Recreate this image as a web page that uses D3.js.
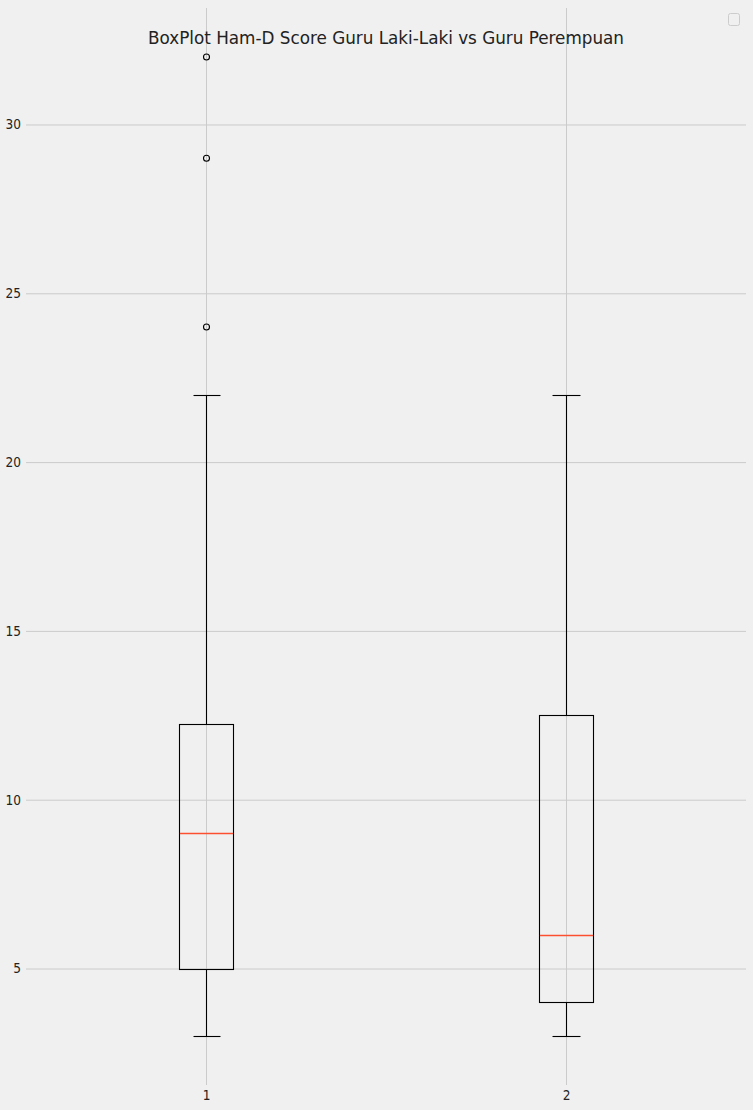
<!DOCTYPE html>
<html>
<head>
<meta charset="utf-8">
<script src="https://cdn.jsdelivr.net/npm/d3@7"></script>
<style>
  html, body { margin: 0; padding: 0; background: #f0f0f0; }
  svg { display: block; }
  text { font-family: "DejaVu Sans", sans-serif; font-stretch: condensed; fill: #222; }
</style>
</head>
<body>
<svg id="chart" width="753" height="1110"></svg>
<script>
// Data (box plot statistics)
const categories = ["1", "2"];
const positions = [1, 2];
const whiskerLow = [3, 3];
const q1 = [5, 4];
const median = [9, 6];
const q3 = [12.25, 12.5];
const whiskerHigh = [22, 22];
const outliers = [[24, 29, 32], []];
const yTicks = [5, 10, 15, 20, 25, 30];
const title = "BoxPlot Ham-D Score Guru Laki-Laki vs Guru Perempuan";

const W = 753, H = 1110;
const margin = { left: 26, right: 7, top: 8, bottom: 25 };
const svg = d3.select("#chart");

svg.append("rect").attr("width", W).attr("height", H).attr("fill", "#f0f0f0");

const x = d3.scaleLinear().domain([0.5, 2.5]).range([margin.left, W - margin.right]);
const y = d3.scaleLinear().domain([1.55, 33.45]).range([H - margin.bottom, margin.top]);
const px = v => Math.round(v) + 0.5;

const gridColor = "#cbcbcb";

// Horizontal grid + y axis
const yAxis = d3.axisLeft(y).tickValues(yTicks).tickSize(-(x.range()[1] - x.range()[0])).tickPadding(7).tickFormat(d3.format("d"));
const gy = svg.append("g").attr("transform", `translate(${margin.left},0)`).call(yAxis);
gy.select(".domain").remove();
gy.selectAll(".tick line").attr("stroke", gridColor).attr("stroke-width", 1);
gy.selectAll(".tick text").attr("font-size", 13.5).attr("fill", "#222").attr("x", -5);

// Vertical grid + x axis
const xAxis = d3.axisBottom(x).tickValues(positions).tickSize(-(y.range()[0] - y.range()[1])).tickPadding(6).tickFormat((d, i) => categories[i]);
const gx = svg.append("g").attr("transform", `translate(0,${H - margin.bottom})`).call(xAxis);
gx.select(".domain").remove();
gx.selectAll(".tick line").attr("stroke", gridColor).attr("stroke-width", 1);
gx.selectAll(".tick text").attr("font-size", 13.5).attr("fill", "#222").attr("y", 5);

// Boxes
const boxW = 0.15, capW = 0.075;
const g = svg.append("g");
positions.forEach((p, i) => {
  const cx = px(x(p));
  const bx0 = px(x(p - boxW / 2)), bx1 = px(x(p + boxW / 2));
  const line = (x1, y1, x2, y2, col, sw) => g.append("line")
    .attr("x1", x1).attr("y1", y1).attr("x2", x2).attr("y2", y2)
    .attr("stroke", col || "#000").attr("stroke-width", sw || 1.1);
  // whiskers
  line(cx, px(y(q1[i])), cx, px(y(whiskerLow[i])));
  line(cx, px(y(q3[i])), cx, px(y(whiskerHigh[i])));
  // caps
  line(px(x(p - capW / 2)), px(y(whiskerLow[i])), px(x(p + capW / 2)), px(y(whiskerLow[i])));
  line(px(x(p - capW / 2)), px(y(whiskerHigh[i])), px(x(p + capW / 2)), px(y(whiskerHigh[i])));
  // box
  g.append("rect").attr("x", bx0).attr("y", px(y(q3[i])))
    .attr("width", bx1 - bx0).attr("height", px(y(q1[i])) - px(y(q3[i])))
    .attr("fill", "none").attr("stroke", "#000").attr("stroke-width", 1.1);
  // median
  line(bx0 + 0.5, px(y(median[i])), bx1 - 0.5, px(y(median[i])), "#fc4f30", 1.4);
  // outliers
  outliers[i].forEach(v => {
    g.append("circle").attr("cx", cx).attr("cy", y(v)).attr("r", 3)
      .attr("fill", "none").attr("stroke", "#000").attr("stroke-width", 1.1);
  });
});

// Title
const t = svg.append("text").attr("x", (x.range()[0] + x.range()[1]) / 2).attr("y", 43.5)
  .attr("text-anchor", "middle").attr("font-size", 18).attr("fill", "#111").text(title);
const tw = t.node().getComputedTextLength();
if (Math.abs(tw - 476) > 4) {
  t.attr("textLength", 476).attr("lengthAdjust", "spacingAndGlyphs");
}

// Empty legend frame
svg.append("rect").attr("x", 728.5).attr("y", 13.5).attr("width", 11).attr("height", 12)
  .attr("rx", 2).attr("fill", "#f0f0f0").attr("stroke", "#cccccc").attr("stroke-width", 1);
</script>
</body>
</html>
